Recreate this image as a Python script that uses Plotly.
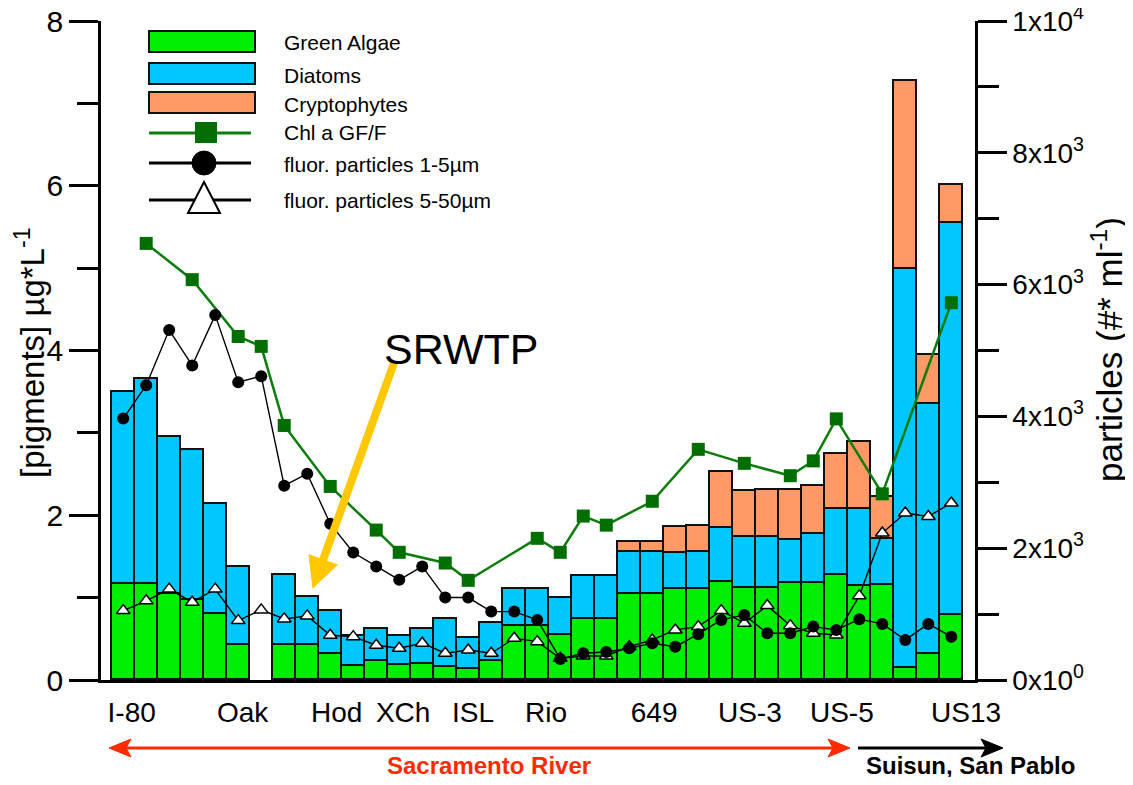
import plotly.graph_objects as go

# ---------------- data ----------------
stations = list(range(37))
green_algae = [1.17, 1.17, 1.04, 0.97, 0.80, 0.43, None, 0.43, 0.43, 0.31, 0.17, 0.23, 0.18,
               0.19, 0.16, 0.13, 0.23, 0.66, 0.66, 0.55, 0.74, 0.74, 1.04, 1.04, 1.11, 1.11,
               1.19, 1.12, 1.12, 1.18, 1.18, 1.28, 1.14, 1.15, 0.15, 0.31, 0.79]
diatoms = [2.33, 2.49, 1.91, 1.82, 1.34, 0.94, None, 0.85, 0.58, 0.53, 0.36, 0.39, 0.35,
           0.43, 0.58, 0.38, 0.46, 0.45, 0.45, 0.44, 0.52, 0.52, 0.51, 0.51, 0.43, 0.44,
           0.65, 0.62, 0.62, 0.52, 0.59, 0.79, 0.93, 0.56, 4.84, 3.04, 4.76]
cryptophytes = [None] * 22 + [0.12, 0.12, 0.32, 0.32, 0.69, 0.56, 0.57, 0.61, 0.58, 0.67,
                              0.82, 0.51, 2.28, 0.60, 0.46]
chl_a = [None, 5.30, None, 4.86, None, 4.17, 4.05, 3.09, None, 2.35, None, 1.82, 1.55,
         None, 1.42, 1.21, None, None, 1.72, 1.55, 1.99, 1.88, None, 2.17, None, 2.80,
         None, 2.63, None, 2.48, 2.66, 3.17, None, 2.26, None, None, 4.58]
particles_1_5 = [3967, 4473, 5310, 4773, 5537, 4519, 4610, 2949, 3131, 2371, 1935, 1722,
                 1520, 1723, 1251, 1251, 1038, 1038, 912, 319, 406, 426, 482, 558, 506, 695,
                 912, 988, 710, 710, 810, 760, 923, 851, 608, 851, 658]
particles_5_50 = [1053, 1201, 1379, 1181, 1379, 901, 1064, 927, 973, 679, 658, 527, 482,
                  558, 406, 456, 406, 634, 582, 330, 365, 365, 506, 608, 760, 810, 1053,
                  862, 1129, 825, 710, 684, 1277, 2230, 2534, 2482, 2686]
station_label_pos = [0.37, 5.19, 9.28, 12.17, 15.21, 18.38, 23.08, 27.24, 31.24, 36.64]
station_labels = ["I-80", "Oak", "Hod", "XCh", "ISL", "Rio", "649", "US-3", "US-5", "US13"]
left_ticks = [0, 2, 4, 6, 8]
left_minor = [1, 3, 5, 7]
right_ticks = [0, 2000, 4000, 6000, 8000, 10000]
right_ticktext = ["0x10<sup>0</sup>", "2x10<sup>3</sup>", "4x10<sup>3</sup>",
                  "6x10<sup>3</sup>", "8x10<sup>3</sup>", "1x10<sup>4</sup>"]
right_minor = [1000, 3000, 5000, 7000, 9000]

# ---------------- style ----------------
FONT = "Liberation Sans, Arial, Helvetica, sans-serif"
C_GREEN = "#00ee00"
C_BLUE = "#00c8ff"
C_ORANGE = "#ff9966"
C_CHL = "#0a7d0a"
C_CHL_MK = "#006e00"
OFF = 8                      # default page (body) margin of the html page
W, H = 1133 - 2 * OFF, 785 - 2 * OFF
L, R, T, B = 101, 975, 21, 680   # plot area in screenshot pixels


def px(x):
    return (x - L) / (R - L)


def py(y):
    return (B - y) / (B - T)


fig = go.Figure()
bar_line = dict(color="#111111", width=1.6)
fig.add_trace(go.Bar(x=stations, y=green_algae, marker=dict(color=C_GREEN, line=bar_line),
                     width=1.0, name="Green Algae"))
fig.add_trace(go.Bar(x=stations, y=diatoms, marker=dict(color=C_BLUE, line=bar_line),
                     width=1.0, name="Diatoms"))
fig.add_trace(go.Bar(x=stations, y=cryptophytes, marker=dict(color=C_ORANGE, line=bar_line),
                     width=1.0, name="Cryptophytes"))
fig.add_trace(go.Scatter(x=stations, y=chl_a, mode="lines+markers", connectgaps=True,
                         line=dict(color=C_CHL, width=2.5),
                         marker=dict(symbol="square", size=13, color=C_CHL_MK),
                         name="Chl a GF/F"))
fig.add_trace(go.Scatter(x=stations, y=particles_5_50, yaxis="y2", mode="lines+markers",
                         line=dict(color="black", width=1.4),
                         marker=dict(symbol="triangle-up", size=12, color="white",
                                     line=dict(color="black", width=1.5)),
                         name="fluor. particles 5-50µm"))
fig.add_trace(go.Scatter(x=stations, y=particles_1_5, yaxis="y2", mode="lines+markers",
                         line=dict(color="black", width=1.4),
                         marker=dict(symbol="circle", size=12, color="black"),
                         name="fluor. particles 1-5µm"))

shapes = []
annotations = []

# ----- legend drawn manually -----
leg_rows = [("Green Algae", 43), ("Diatoms", 75), ("Cryptophytes", 105),
            ("Chl a GF/F", 132), ("fluor. particles 1-5µm", 164), ("fluor. particles 5-50µm", 200)]
for (col, y0, y1) in [(C_GREEN, 31, 52), (C_BLUE, 63, 84), (C_ORANGE, 92, 113)]:
    shapes.append(dict(type="rect", xref="paper", yref="paper", x0=px(149), x1=px(255),
                       y0=py(y1), y1=py(y0), fillcolor=col, line=dict(color="#111111", width=2)))
shapes.append(dict(type="line", xref="paper", yref="paper", x0=px(149), x1=px(251),
                   y0=py(133), y1=py(133), line=dict(color=C_CHL, width=3)))
shapes.append(dict(type="rect", xref="paper", yref="paper", x0=px(195), x1=px(217),
                   y0=py(143), y1=py(122), fillcolor=C_CHL_MK, line=dict(width=0)))
shapes.append(dict(type="line", xref="paper", yref="paper", x0=px(149), x1=px(251),
                   y0=py(163), y1=py(163), line=dict(color="black", width=3)))
shapes.append(dict(type="circle", xref="paper", yref="paper", x0=px(192), x1=px(216),
                   y0=py(175), y1=py(151), fillcolor="black", line=dict(color="black", width=1)))
shapes.append(dict(type="line", xref="paper", yref="paper", x0=px(149), x1=px(251),
                   y0=py(200), y1=py(200), line=dict(color="black", width=3)))
shapes.append(dict(type="path", xref="paper", yref="paper",
                   path=f"M {px(204)} {py(182)} L {px(220)} {py(213)} L {px(188)} {py(213)} Z",
                   fillcolor="white", line=dict(color="black", width=2)))
for (txt, yy) in leg_rows:
    annotations.append(dict(x=px(282), y=py(yy), xref="paper", yref="paper", text=txt,
                            showarrow=False, xanchor="left", yanchor="middle",
                            font=dict(family=FONT, size=21, color="black")))

# ----- SRWTP arrow -----
C_Y = "#ffc800"
tip = (313, 588)
ux, uy = -0.3376, 0.9410
hl, hw = 30, 15
bx, by = tip[0] - hl * ux, tip[1] - hl * uy
nx, ny = 0.9410, 0.3376
shapes.append(dict(type="line", xref="paper", yref="paper", x0=px(394), y0=py(363),
                   x1=px(bx + 2 * ux), y1=py(by + 2 * uy), line=dict(color=C_Y, width=8)))
shapes.append(dict(type="path", xref="paper", yref="paper",
                   path=(f"M {px(tip[0])} {py(tip[1])} L {px(bx + hw * nx)} {py(by + hw * ny)} "
                         f"L {px(bx - hw * nx)} {py(by - hw * ny)} Z"),
                   fillcolor=C_Y, line=dict(color=C_Y, width=1)))
annotations.append(dict(x=px(461), y=py(349), xref="paper", yref="paper", text="SRWTP",
                        showarrow=False, xanchor="center", yanchor="middle",
                        font=dict(family=FONT, size=43, color="black")))

# ----- bottom arrows -----
C_R = "#ff2a00"
ay = 748
shapes.append(dict(type="line", xref="paper", yref="paper", x0=px(120), x1=px(840),
                   y0=py(ay), y1=py(ay), line=dict(color=C_R, width=3)))
shapes.append(dict(type="path", xref="paper", yref="paper",
                   path=f"M {px(109)} {py(ay)} L {px(131)} {py(ay - 9)} L {px(126)} {py(ay)} L {px(131)} {py(ay + 9)} Z",
                   fillcolor=C_R, line=dict(color=C_R, width=1)))
shapes.append(dict(type="path", xref="paper", yref="paper",
                   path=f"M {px(850)} {py(ay)} L {px(828)} {py(ay - 9)} L {px(833)} {py(ay)} L {px(828)} {py(ay + 9)} Z",
                   fillcolor=C_R, line=dict(color=C_R, width=1)))
shapes.append(dict(type="line", xref="paper", yref="paper", x0=px(858), x1=px(993),
                   y0=py(ay), y1=py(ay), line=dict(color="black", width=3)))
shapes.append(dict(type="path", xref="paper", yref="paper",
                   path=f"M {px(1003)} {py(ay)} L {px(981)} {py(ay - 9)} L {px(986)} {py(ay)} L {px(981)} {py(ay + 9)} Z",
                   fillcolor="black", line=dict(color="black", width=1)))
annotations.append(dict(x=px(489), y=py(765), xref="paper", yref="paper",
                        text="<b>Sacramento River</b>", showarrow=False, xanchor="center",
                        yanchor="middle", font=dict(family=FONT, size=24, color=C_R)))
annotations.append(dict(x=px(970), y=py(765), xref="paper", yref="paper",
                        text="<b>Suisun, San Pablo</b>", showarrow=False, xanchor="center",
                        yanchor="middle", font=dict(family=FONT, size=24, color="black")))

# ----- axis titles -----
annotations.append(dict(x=px(30), y=py(353), xref="paper", yref="paper",
                        text="[pigments] µg*L<sup>-1</sup>", textangle=-90, showarrow=False,
                        xanchor="center", yanchor="middle",
                        font=dict(family=FONT, size=33, color="black")))
annotations.append(dict(x=px(1107), y=py(350), xref="paper", yref="paper",
                        text="particles (#* ml<sup>-1</sup>)", textangle=-90, showarrow=False,
                        xanchor="center", yanchor="middle",
                        font=dict(family=FONT, size=35, color="black")))

fig.update_layout(
    width=W, height=H,
    margin=dict(l=L - OFF, r=W - (R - OFF), t=T - OFF, b=H - (B - OFF), pad=0,
                autoexpand=False),
    paper_bgcolor="white", plot_bgcolor="white",
    barmode="stack", bargap=0, showlegend=False,
    font=dict(family=FONT, color="black"),
    xaxis=dict(range=[-0.965, 37.03], showgrid=False, zeroline=False, showline=True,
               automargin=False, ticklabeloverflow="allow",
               linecolor="black", linewidth=2.5, ticks="", tickvals=station_label_pos,
               ticktext=station_labels, tickfont=dict(size=28, family=FONT),
               ticklabelstandoff=6),
    yaxis=dict(range=[0, 8], showgrid=False, zeroline=False, showline=True,
               automargin=False, ticklabeloverflow="allow",
               linecolor="black", linewidth=2.5, ticks="outside", ticklen=29, tickwidth=2.5,
               tickcolor="black", tickvals=left_ticks, tickfont=dict(size=30, family=FONT),
               minor=dict(tickvals=left_minor, ticks="outside", ticklen=21, tickwidth=2.5,
                          tickcolor="black")),
    yaxis2=dict(range=[0, 10000], overlaying="y", side="right", showgrid=False,
                automargin=False, ticklabeloverflow="allow",
                zeroline=False, showline=True, linecolor="black", linewidth=2.5,
                ticks="outside", ticklen=29, tickwidth=2.5, tickcolor="black",
                tickvals=right_ticks, ticktext=right_ticktext,
                tickfont=dict(size=28, family=FONT),
                minor=dict(tickvals=right_minor, ticks="outside", ticklen=21, tickwidth=2.5,
                           tickcolor="black")),
    shapes=shapes, annotations=annotations,
)

fig.write_html("out.html")
